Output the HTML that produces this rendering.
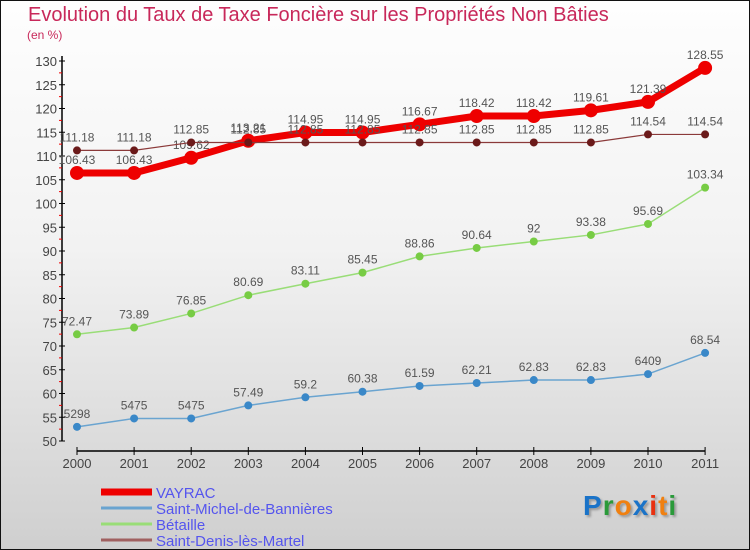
<!DOCTYPE html>
<html><head><meta charset="utf-8"><style>
html,body{margin:0;padding:0;width:750px;height:550px;overflow:hidden}
body{background:linear-gradient(#fefefe,#f2f2f2 45%,#cfcfcf);box-sizing:border-box;border:1px solid #111;font-family:"Liberation Sans",sans-serif;position:relative}
.t{position:absolute;white-space:nowrap}
</style></head><body>
<div class="t" style="left:27px;top:3px;font-size:20px;color:#c8285a">Evolution du Taux de Taxe Foncière sur les Propriétés Non Bâties</div>
<div class="t" style="left:26px;top:27px;font-size:12px;color:#c8285a">(en %)</div>
<svg id="c" width="750" height="550" style="position:absolute;left:0;top:0"></svg>
<div class="t" style="left:582px;top:489px;font-size:28px;font-weight:bold;letter-spacing:1px;text-shadow:2px 2px 2px #999"><span style="color:#1a73c8">P</span><span style="color:#2a9a3a">r</span><span style="color:#f08010">o</span><span style="color:#1a73c8">x</span><span style="color:#e83010">i</span><span style="color:#f08010">t</span><span style="color:#2a9a3a">i</span></div>
<script>
const years=["2000","2001","2002","2003","2004","2005","2006","2007","2008","2009","2010","2011"];
const vayrac=[106.43,106.43,109.62,113.21,114.95,114.95,116.67,118.42,118.42,119.61,121.39,128.55];
const vayracLabels=["106.43","106.43","109.62","113.21","114.95","114.95","116.67","118.42","118.42","119.61","121.39","128.55"];
const stMichel=[52.98,54.75,54.75,57.49,59.2,60.38,61.59,62.21,62.83,62.83,64.09,68.54];
const stMichelLabels=["5298","5475","5475","57.49","59.2","60.38","61.59","62.21","62.83","62.83","6409","68.54"];
const betaille=[72.47,73.89,76.85,80.69,83.11,85.45,88.86,90.64,92,93.38,95.69,103.34];
const betailleLabels=["72.47","73.89","76.85","80.69","83.11","85.45","88.86","90.64","92","93.38","95.69","103.34"];
const stDenis=[111.18,111.18,112.85,112.85,112.85,112.85,112.85,112.85,112.85,112.85,114.54,114.54];
const stDenisLabels=["111.18","111.18","112.85","112.85","112.85","112.85","112.85","112.85","112.85","112.85","114.54","114.54"];
const yTicks=[50,55,60,65,70,75,80,85,90,95,100,105,110,115,120,125,130];
const legendNames=["VAYRAC","Saint-Michel-de-Bannières","Bétaille","Saint-Denis-lès-Martel"];

const NS="http://www.w3.org/2000/svg",svg=document.getElementById('c');
const X=i=>76+i*57.1, Y=v=>440-(v-50)*4.75;
function mk(t,a,p){const e=document.createElementNS(NS,t);for(const k in a)e.setAttribute(k,a[k]);(p||svg).appendChild(e);return e;}
// axes
let ax=mk('line',{x1:61,y1:55,x2:61,y2:440,stroke:'#000','stroke-width':1.5});


for(const v of yTicks){
 mk('line',{x1:58,x2:64,y1:Y(v),y2:Y(v),stroke:'#000'});
 if(v<130)mk('line',{x1:58,x2:61,y1:Y(v+2.5),y2:Y(v+2.5),stroke:'#e00'});
 const t=mk('text',{x:56,y:Y(v)+5,'text-anchor':'end','font-size':13,fill:'#444'});t.textContent=v;
 
 
}
let xa=mk('line',{x1:76,y1:450,x2:X(11),y2:450,stroke:'#000','stroke-width':1.5});


years.forEach((y,i)=>{
 mk('line',{x1:X(i),x2:X(i),y1:446,y2:454,stroke:'#000'});
 const t=mk('text',{x:X(i),y:467,'text-anchor':'middle','font-size':13,fill:'#444'});t.textContent=y;
 
 
});
function series(vals,labels,color,w,r,name,dot){
 const g=mk('g',{});
 
 
 mk('polyline',{points:vals.map((v,i)=>X(i)+','+Y(v)).join(' '),fill:'none',stroke:color,'stroke-width':w},g);
 vals.forEach((v,i)=>{
  const c=mk('circle',{cx:X(i),cy:Y(v),r:r,fill:dot},g);
  
  
  const t=mk('text',{x:X(i),y:Y(v)-9,'text-anchor':'middle','font-size':12,fill:'#555'},g);t.textContent=labels[i];
  
  
 });
}
series(stMichel,stMichelLabels,'#6aa4d0',1.5,4,'saint-michel-series','#3a88c8');
series(betaille,betailleLabels,'#99dd77',1.5,4,'betaille-series','#77cc44');
series(vayrac,vayracLabels,'#ee0000',7,7,'vayrac-series','#ee0000');
series(stDenis,stDenisLabels,'#8b3a3a',1.2,4,'saint-denis-series','#6b1a1a');
// legend
const lc=['#ee0000','#6aa4d0','#99dd77','#a06060'],lw=[7,3,3,3];
legendNames.forEach((n,i)=>{
 const y=491+i*16;
 const g=mk('g',{});
 
 
 mk('line',{x1:100,x2:151,y1:y,y2:y,stroke:lc[i],'stroke-width':lw[i]},g);
 const t=mk('text',{x:155,y:y+6,'font-size':15,fill:'#5555ee'},g);t.textContent=n;
});
</script>
</body></html>
